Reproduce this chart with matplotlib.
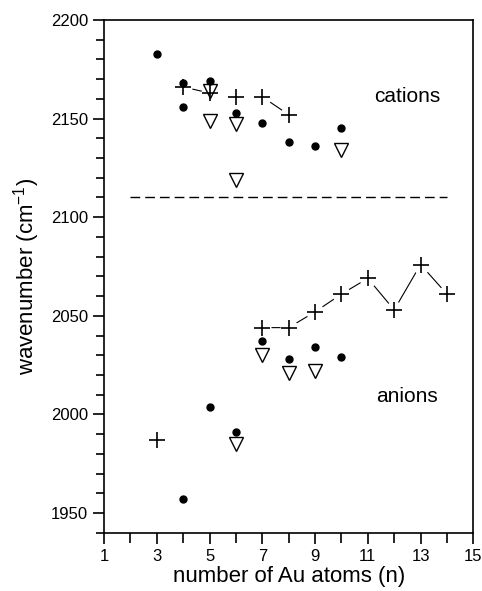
import matplotlib
matplotlib.use("Agg")
import matplotlib.pyplot as plt
from matplotlib.ticker import MultipleLocator

plt.rcParams['font.family'] = ['Liberation Sans', 'DejaVu Sans']

# ---- data ----
cat_dot_n = [3, 4, 4, 5, 6, 7, 8, 9, 10]
cat_dot_v = [2183, 2168, 2156, 2169, 2153, 2148, 2138, 2136, 2145]
cat_tri_n = [5, 5, 6, 6, 10]
cat_tri_v = [2164, 2149, 2147, 2119, 2134]
cat_cross_n = [4, 5, 6, 7, 8]
cat_cross_v = [2166, 2163, 2161, 2161, 2152]
cat_links = [(0, 1), (3, 4)]  # index pairs of connected crosses

an_dot_n = [4, 5, 6, 7, 8, 9, 10]
an_dot_v = [1957, 2004, 1991, 2037, 2028, 2034, 2029]
an_tri_n = [6, 7, 8, 9]
an_tri_v = [1985, 2030, 2021, 2022]
an_cross_n = [3, 7, 8, 9, 10, 11, 12, 13, 14]
an_cross_v = [1987, 2044, 2044, 2052, 2061, 2069, 2053, 2076, 2061]
an_line_n = an_cross_n[1:]
an_line_v = an_cross_v[1:]

sep_n = [2, 14]
sep_v = [2110, 2110]

x_ticks = [1, 3, 5, 7, 9, 11, 13, 15]
y_ticks = [1950, 2000, 2050, 2100, 2150, 2200]

fig = plt.figure(figsize=(4.82, 5.91), dpi=100)
ax = fig.add_axes([0.2158, 0.0986, 0.982 - 0.2158, 0.9662 - 0.0986])

lw = 0.8
# connecting lines
for i, j in cat_links:
    ax.plot([cat_cross_n[i], cat_cross_n[j]], [cat_cross_v[i], cat_cross_v[j]],
            color='black', lw=lw, zorder=1)
ax.plot(an_line_n, an_line_v, color='black', lw=lw, zorder=1)
# white masks to create gaps around crosses
ax.plot(cat_cross_n, cat_cross_v, 'o', ms=13, mfc='white', mec='none', zorder=2)
ax.plot(an_line_n, an_line_v, 'o', ms=13, mfc='white', mec='none', zorder=2)

# separator
ax.plot(sep_n, sep_v, color='black', lw=1.0, ls=(0, (7, 3.6)), zorder=1)

# markers
for n, v in [(cat_dot_n, cat_dot_v), (an_dot_n, an_dot_v)]:
    ax.plot(n, v, 'o', ms=5, mfc='black', mec='black', ls='none', zorder=3)
for n, v in [(cat_tri_n, cat_tri_v), (an_tri_n, an_tri_v)]:
    ax.plot(n, v, 'v', ms=10, mfc='none', mec='black', mew=1.0, ls='none', zorder=3)
for n, v in [(cat_cross_n, cat_cross_v), (an_cross_n, an_cross_v)]:
    ax.plot(n, v, '+', ms=12, mec='black', mew=1.2, ls='none', zorder=3)

ax.text(12.5, 2161, 'cations', fontsize=15, ha='center', va='center')
ax.text(12.5, 2009, 'anions', fontsize=15, ha='center', va='center')

ax.set_xlim(1, 15)
ax.set_ylim(1940, 2200)
ax.set_xticks(x_ticks)
ax.xaxis.set_minor_locator(MultipleLocator(1))
ax.set_yticks(y_ticks)
ax.yaxis.set_minor_locator(MultipleLocator(10))
ax.tick_params(which='major', direction='out', length=8, width=1.2, labelsize=12, color='black')
ax.tick_params(which='minor', direction='out', length=6, width=1.2)
ax.tick_params(axis='x', which='minor', length=7)
for s in ax.spines.values():
    s.set_linewidth(1.2)

ax.set_xlabel('number of Au atoms (n)', fontsize=16, labelpad=2)
ax.set_ylabel(r'wavenumber (cm$^{\mathregular{-1}}$)', fontsize=16, labelpad=6)

fig.savefig('out.png', dpi=100)
